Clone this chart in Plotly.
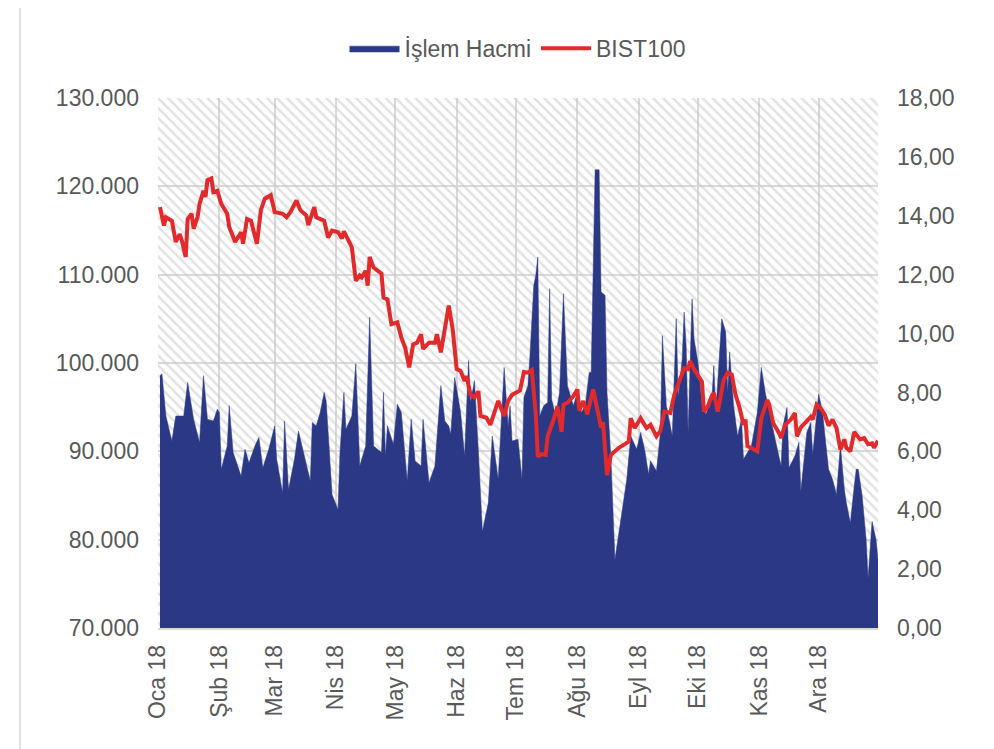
import plotly.graph_objects as go

# BIST100 (sol eksen)
bist_tarih = [
    "2018-01-02", "2018-01-04", "2018-01-05", "2018-01-08", "2018-01-10", "2018-01-12",
    "2018-01-13", "2018-01-15", "2018-01-16", "2018-01-18", "2018-01-19", "2018-01-21",
    "2018-01-22", "2018-01-24", "2018-01-25", "2018-01-26", "2018-01-28", "2018-01-29",
    "2018-01-31", "2018-02-02", "2018-02-05", "2018-02-06", "2018-02-09", "2018-02-12",
    "2018-02-13", "2018-02-15", "2018-02-17", "2018-02-20", "2018-02-22", "2018-02-24",
    "2018-02-27", "2018-03-01", "2018-03-05", "2018-03-07", "2018-03-09", "2018-03-12",
    "2018-03-14", "2018-03-17", "2018-03-18", "2018-03-21", "2018-03-22", "2018-03-26",
    "2018-03-28", "2018-03-30", "2018-04-02", "2018-04-04", "2018-04-05", "2018-04-07",
    "2018-04-09", "2018-04-11", "2018-04-13", "2018-04-14", "2018-04-16", "2018-04-17",
    "2018-04-18", "2018-04-20", "2018-04-24", "2018-04-25", "2018-04-27", "2018-04-29",
    "2018-05-02", "2018-05-04", "2018-05-06", "2018-05-08", "2018-05-10", "2018-05-12",
    "2018-05-14", "2018-05-15", "2018-05-18", "2018-05-21", "2018-05-22", "2018-05-24",
    "2018-05-26", "2018-05-28", "2018-05-30", "2018-06-01", "2018-06-03", "2018-06-05",
    "2018-06-06", "2018-06-08", "2018-06-10", "2018-06-12", "2018-06-13", "2018-06-16",
    "2018-06-18", "2018-06-20", "2018-06-22", "2018-06-25", "2018-06-27", "2018-06-29",
    "2018-07-03", "2018-07-05", "2018-07-07", "2018-07-09", "2018-07-11", "2018-07-12",
    "2018-07-14", "2018-07-16", "2018-07-17", "2018-07-20", "2018-07-22", "2018-07-24",
    "2018-07-25", "2018-07-27", "2018-07-30", "2018-08-01", "2018-08-02", "2018-08-04",
    "2018-08-06", "2018-08-09", "2018-08-11", "2018-08-13", "2018-08-14", "2018-08-16",
    "2018-08-18", "2018-08-22", "2018-08-27", "2018-08-28", "2018-08-30", "2018-09-02",
    "2018-09-05", "2018-09-07", "2018-09-10", "2018-09-12", "2018-09-14", "2018-09-17",
    "2018-09-19", "2018-09-22", "2018-09-24", "2018-09-26", "2018-09-27", "2018-09-29",
    "2018-10-03", "2018-10-04", "2018-10-06", "2018-10-08", "2018-10-09", "2018-10-11",
    "2018-10-14", "2018-10-16", "2018-10-18", "2018-10-20", "2018-10-22", "2018-10-24",
    "2018-10-25", "2018-10-26", "2018-10-29", "2018-10-31", "2018-11-02", "2018-11-05",
    "2018-11-06", "2018-11-08", "2018-11-11", "2018-11-12", "2018-11-14", "2018-11-17",
    "2018-11-19", "2018-11-20", "2018-11-22", "2018-11-25", "2018-11-27", "2018-11-28",
    "2018-11-30", "2018-12-02", "2018-12-04", "2018-12-06", "2018-12-08", "2018-12-10",
    "2018-12-12", "2018-12-14", "2018-12-15", "2018-12-17", "2018-12-19", "2018-12-22",
    "2018-12-24", "2018-12-26", "2018-12-28", "2018-12-29", "2018-12-30", "2018-12-31",
]
bist100 = [
    117650, 115570, 116500, 116100, 113700, 114600,
    113900, 112000, 116300, 116900, 115200, 116500,
    118000, 119500, 118800, 120700, 120900, 119350,
    119500, 118000, 116900, 115400, 113700, 114800,
    113500, 116300, 116100, 113500, 117300, 118600,
    119000, 117100, 116900, 116500, 117100, 118400,
    117300, 116700, 115600, 117650, 116500, 116100,
    114200, 115000, 114800, 114100, 114900, 114050,
    113100, 109300, 109900, 109700, 110450, 108750,
    112000, 110800, 110100, 107400, 107200, 104400,
    104600, 102900, 101700, 99500, 102100, 102300,
    103250, 101600, 102300, 102300, 103250, 101200,
    103600, 106500, 103800, 99300, 99100, 97950,
    98500, 96400, 96100, 96800, 94000, 93800,
    93000, 94400, 95700, 94000, 95700, 96400,
    96900, 99000, 98900, 99200, 94200, 89400,
    89700, 89600, 91700, 93600, 95100, 92200,
    95300, 95500, 96250, 97000, 94600, 95700,
    94200, 97000, 94600, 92700, 93300, 87300,
    89600, 90400, 91100, 93750, 92650, 93750,
    92650, 93000, 91700, 92300, 94500, 94350,
    96400, 98300, 99400, 99300, 100200, 99300,
    97900, 94500, 95100, 96300, 96600, 94500,
    98100, 98900, 98700, 96400, 94950, 93000,
    93600, 90600, 90200, 90000, 93750, 95800,
    95300, 93200, 92050, 91500, 93000, 93600,
    94350, 91700, 92700, 93400, 93900, 93600,
    95300, 94900, 94200, 92900, 93600, 92650,
    90200, 91350, 90400, 90000, 92200, 91350,
    91500, 90800, 90900, 90400, 90900, 91200,
]

# İşlem hacmi (sağ eksen)
hacim_tarih = [
    "2018-01-02", "2018-01-03", "2018-01-05", "2018-01-08", "2018-01-10", "2018-01-14",
    "2018-01-16", "2018-01-19", "2018-01-22", "2018-01-24", "2018-01-26", "2018-01-29",
    "2018-01-31", "2018-02-01", "2018-02-02", "2018-02-05", "2018-02-06", "2018-02-08",
    "2018-02-12", "2018-02-14", "2018-02-16", "2018-02-19", "2018-02-21", "2018-02-23",
    "2018-02-26", "2018-03-01", "2018-03-02", "2018-03-05", "2018-03-06", "2018-03-08",
    "2018-03-11", "2018-03-13", "2018-03-16", "2018-03-19", "2018-03-20", "2018-03-22",
    "2018-03-24", "2018-03-26", "2018-03-27", "2018-03-30", "2018-04-02", "2018-04-03",
    "2018-04-05", "2018-04-06", "2018-04-09", "2018-04-11", "2018-04-13", "2018-04-16",
    "2018-04-18", "2018-04-20", "2018-04-24", "2018-04-25", "2018-04-26", "2018-04-27",
    "2018-04-30", "2018-05-02", "2018-05-04", "2018-05-07", "2018-05-09", "2018-05-11",
    "2018-05-14", "2018-05-15", "2018-05-18", "2018-05-21", "2018-05-24", "2018-05-26",
    "2018-05-28", "2018-05-29", "2018-05-31", "2018-06-03", "2018-06-05", "2018-06-07",
    "2018-06-08", "2018-06-10", "2018-06-12", "2018-06-14", "2018-06-17", "2018-06-19",
    "2018-06-22", "2018-06-23", "2018-06-25", "2018-06-27", "2018-06-28", "2018-06-29",
    "2018-07-02", "2018-07-04", "2018-07-05", "2018-07-07", "2018-07-08", "2018-07-10",
    "2018-07-11", "2018-07-12", "2018-07-13", "2018-07-15", "2018-07-17", "2018-07-18",
    "2018-07-19", "2018-07-21", "2018-07-23", "2018-07-25", "2018-07-27", "2018-07-30",
    "2018-08-01", "2018-08-03", "2018-08-05", "2018-08-07", "2018-08-08", "2018-08-10",
    "2018-08-12", "2018-08-13", "2018-08-15", "2018-08-16", "2018-08-18", "2018-08-20",
    "2018-08-23", "2018-08-26", "2018-08-28", "2018-08-31", "2018-09-02", "2018-09-04",
    "2018-09-06", "2018-09-07", "2018-09-10", "2018-09-12", "2018-09-13", "2018-09-15",
    "2018-09-18", "2018-09-19", "2018-09-20", "2018-09-21", "2018-09-23", "2018-09-24",
    "2018-09-25", "2018-09-26", "2018-09-28", "2018-09-29", "2018-10-01", "2018-10-03",
    "2018-10-05", "2018-10-08", "2018-10-09", "2018-10-10", "2018-10-13", "2018-10-15",
    "2018-10-16", "2018-10-17", "2018-10-19", "2018-10-21", "2018-10-23", "2018-10-24",
    "2018-10-26", "2018-10-28", "2018-10-31", "2018-11-02", "2018-11-04", "2018-11-06",
    "2018-11-09", "2018-11-12", "2018-11-13", "2018-11-15", "2018-11-16", "2018-11-19",
    "2018-11-21", "2018-11-22", "2018-11-25", "2018-11-27", "2018-11-28", "2018-12-01",
    "2018-12-03", "2018-12-04", "2018-12-06", "2018-12-08", "2018-12-10", "2018-12-12",
    "2018-12-14", "2018-12-15", "2018-12-17", "2018-12-19", "2018-12-20", "2018-12-21",
    "2018-12-23", "2018-12-25", "2018-12-26", "2018-12-28", "2018-12-30", "2018-12-31",
]
islem_hacmi = [
    8.57, 8.63, 7.20, 6.35, 7.20, 7.20,
    8.34, 7.09, 6.30, 8.57, 7.09, 7.03,
    7.43, 7.32, 5.39, 6.18, 7.55, 5.96,
    5.16, 6.07, 5.61, 6.18, 6.47, 5.44,
    6.07, 6.86, 5.73, 4.59, 7.03, 4.70,
    5.73, 6.69, 5.84, 4.99, 6.98, 6.86,
    7.32, 8.00, 7.72, 4.53, 4.02, 5.96,
    8.00, 6.75, 7.20, 8.97, 5.50, 6.18,
    10.56, 6.18, 5.96, 8.00, 5.84, 6.86,
    6.24, 7.60, 7.32, 4.99, 7.09, 5.67,
    5.50, 7.09, 4.93, 5.50, 8.23, 7.03,
    6.86, 6.58, 8.51, 7.32, 5.84, 9.08,
    7.66, 8.40, 5.96, 3.28, 4.25, 6.52,
    5.05, 6.41, 8.85, 6.86, 7.55, 6.35,
    6.41, 5.05, 7.83, 8.23, 9.20, 11.64,
    11.98, 12.60, 7.20, 7.55, 7.66, 11.52,
    7.77, 7.20, 8.00, 11.35, 8.23, 7.55,
    8.00, 7.32, 7.55, 8.68, 8.68, 15.56,
    15.56, 11.41, 11.30, 8.00, 5.73, 2.32,
    3.68, 5.05, 6.52, 6.07, 6.64, 6.07,
    5.22, 5.67, 5.33, 6.64, 9.93, 7.55,
    6.52, 8.68, 10.50, 7.83, 9.14, 10.73,
    9.59, 6.64, 11.18, 9.82, 9.00, 7.60,
    7.26, 7.77, 8.91, 7.32, 10.50, 10.05,
    8.00, 9.37, 7.55, 6.52, 7.09, 5.73,
    5.96, 6.18, 7.32, 8.85, 8.00, 7.32,
    6.41, 5.50, 6.86, 7.49, 5.44, 5.84,
    6.30, 4.65, 6.64, 6.98, 5.90, 7.94,
    7.32, 6.64, 5.39, 5.05, 4.53, 6.18,
    4.70, 4.25, 3.57, 4.82, 5.39, 5.39,
    4.48, 3.00, 1.69, 3.62, 3.00, 2.32,
]

ay_basi = ["2018-01-01", "2018-02-01", "2018-03-01", "2018-04-01", "2018-05-01", "2018-06-01",
           "2018-07-01", "2018-08-01", "2018-09-01", "2018-10-01", "2018-11-01", "2018-12-01"]
ay_etiket = ["Oca 18", "Şub 18", "Mar 18", "Nis 18", "May 18", "Haz 18",
             "Tem 18", "Ağu 18", "Eyl 18", "Eki 18", "Kas 18", "Ara 18"]

x_aralik = ["2018-01-01", "2018-12-31"]
hacim_aralik = [0, 18]
bist_aralik = [70000, 130000]

yazi = dict(family="Liberation Sans, Arial, sans-serif", size=23, color="#595959")
izgara = "#d9d9d9"

fig = go.Figure()

# taralı arka plan
fig.add_trace(go.Scatter(
    x=x_aralik, y=[hacim_aralik[1]] * 2,
    mode="lines", line=dict(width=0),
    fill="tozeroy", fillcolor="rgba(0,0,0,0)",
    fillpattern=dict(shape="\\", fgcolor="#c6c6c6", bgcolor="rgba(0,0,0,0)", size=7, solidity=0.36),
    showlegend=False, hoverinfo="skip", yaxis="y",
))

fig.add_trace(go.Scatter(
    x=hacim_tarih, y=islem_hacmi, name="İşlem Hacmi",
    mode="lines", line=dict(width=0.5, color="#2a3886"),
    fill="tozeroy", fillcolor="#2a3886", yaxis="y",
))

fig.add_trace(go.Scatter(
    x=bist_tarih, y=bist100, name="BIST100",
    mode="lines", line=dict(width=4, color="#e2292b"),
    yaxis="y2",
))

# sayfa gövdesinin 8px kenar boşluğu hesaba katıldı
fig.update_layout(
    width=986, height=741,
    margin=dict(l=150, r=116, t=90, b=121),
    paper_bgcolor="white", plot_bgcolor="white",
    font=yazi,
    separators=",.",
    legend=dict(orientation="h", x=0.5, xanchor="center", y=1.094, yanchor="middle",
                font=yazi, itemwidth=50, traceorder="normal"),
    xaxis=dict(
        type="date", range=x_aralik,
        tickvals=ay_basi, ticktext=ay_etiket, tickangle=-90,
        showgrid=True, gridcolor=izgara, gridwidth=1.5,
        showline=True, linecolor=izgara, linewidth=1.5,
        ticks="", ticklabelstandoff=6, tickfont=yazi,
    ),
    yaxis=dict(
        side="right", range=hacim_aralik, dtick=2, tickformat=".2f",
        showgrid=False, zeroline=False, ticks="", ticklabelstandoff=18, tickfont=yazi,
    ),
    yaxis2=dict(
        overlaying="y", side="left", range=bist_aralik, dtick=10000, tickformat=",.0f",
        showgrid=True, gridcolor=izgara, gridwidth=1.5, zeroline=False,
        ticks="", ticklabelstandoff=18, tickfont=yazi,
    ),
    shapes=[dict(type="rect", xref="paper", yref="paper",
                 x0=-0.1917, x1=1.1563, y0=-0.245, y1=1.1755,
                 line=dict(color="#d9d9d9", width=1.5), layer="below")],
)

fig.write_html("out.html")
